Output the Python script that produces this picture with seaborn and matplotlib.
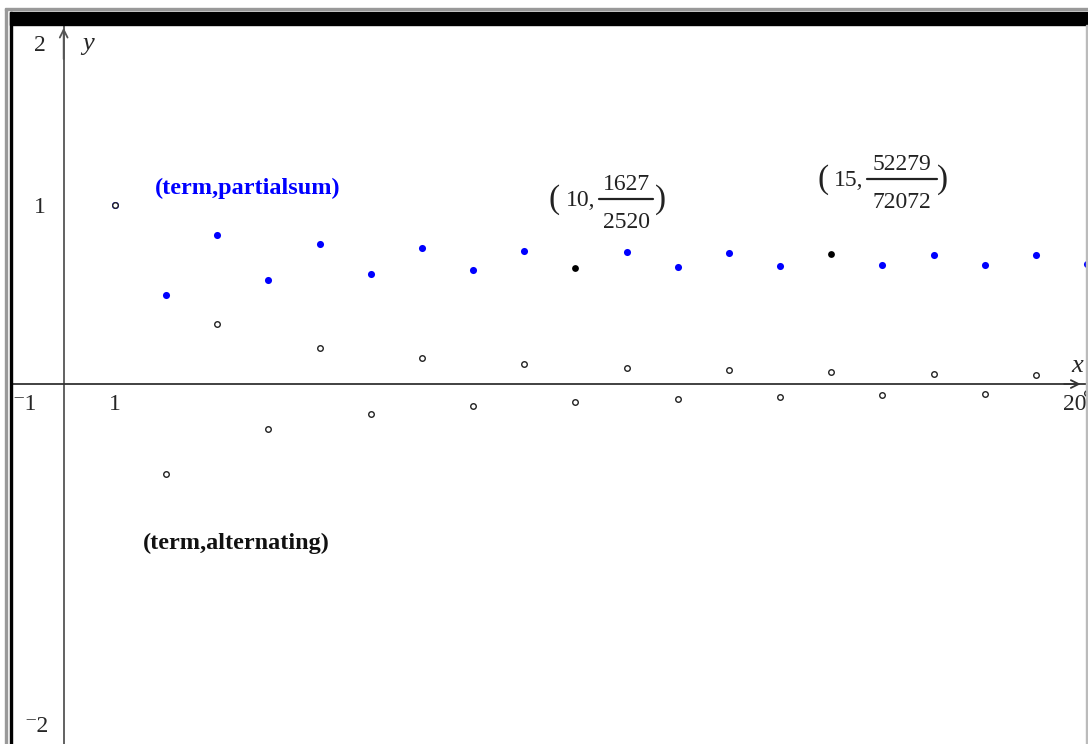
import numpy as np
import pandas as pd
import matplotlib
matplotlib.use("Agg")
import matplotlib.pyplot as plt
from matplotlib.patches import Rectangle
from matplotlib.lines import Line2D
import seaborn as sns

# ------------------------------------------------------------
# datos: serie armonica alternante y sus sumas parciales
# ------------------------------------------------------------
term = list(range(1, 21))
alternating = [1, -1/2, 1/3, -1/4, 1/5, -1/6, 1/7, -1/8, 1/9, -1/10,
               1/11, -1/12, 1/13, -1/14, 1/15, -1/16, 1/17, -1/18, 1/19, -1/20]
partialsum = [1.0, 0.5, 0.8333, 0.5833, 0.7833, 0.6167, 0.7595, 0.6345,
              0.7456, 0.6456, 0.7365, 0.6532, 0.7301, 0.6587, 0.7254,
              0.6629, 0.7218, 0.6663, 0.7189, 0.6688]
selected_terms = [10, 15]
selected_num = ["1627", "52279"]
selected_den = ["2520", "72072"]
x_ticklabels = {-1: "\u207b1", 1: "1", 20: "20"}

sns.set_theme(style="white")
plt.rcParams["font.family"] = ["Liberation Serif", "DejaVu Serif"]

W, H = 1088, 744
fig = plt.figure(figsize=(W / 100, H / 100), dpi=100)
ax = fig.add_axes([12 / W, 0, (1087 - 12) / W, (744 - 25) / H])


def px(x, y):
    """pixel (desde arriba a la izquierda) -> fraccion de figura"""
    return x / W, 1 - y / H


df = pd.DataFrame({"term": term, "alternating": alternating, "partialsum": partialsum})
df["sel"] = df["term"].isin(selected_terms)

# sumas parciales (azul), las seleccionadas en negro
sns.scatterplot(data=df[~df["sel"]], x="term", y="partialsum", ax=ax,
                color="#0000ff", s=26, linewidth=0, zorder=3)
sns.scatterplot(data=df[df["sel"]], x="term", y="partialsum", ax=ax,
                color="black", s=24, linewidth=0, zorder=3)
# terminos alternantes: circulos huecos
sns.scatterplot(data=df, x="term", y="alternating", ax=ax,
                facecolor="white", edgecolor="#222222", s=16, linewidth=1.0,
                zorder=4, clip_on=False)

ax.set_xlim(-1.01, 19.97)
ax.set_ylim(-2.011, 2.006)

# ejes cartesianos en el origen
for side in ["top", "right"]:
    ax.spines[side].set_visible(False)
ax.spines["left"].set_position("zero")
ax.spines["bottom"].set_position("zero")
ax.spines["left"].set_color("#555555")
ax.spines["bottom"].set_color("#333333")
ax.spines["left"].set_linewidth(1.3)
ax.spines["bottom"].set_linewidth(1.3)

ax.set_xticks(range(-1, 21))
ax.set_xticklabels([x_ticklabels.get(v, "") for v in range(-1, 21)], fontsize=17)
ax.set_yticks(range(-2, 3))
ax.set_yticklabels([])
ax.tick_params(axis="both", direction="inout", length=6, width=1, color="#333333",
               pad=4)
ax.set_xlabel("")
ax.set_ylabel("")
xl = ax.get_xticklabels()
xl[0].set_ha("left")
xl[-1].set_ha("right")

# etiquetas del eje y (como en la calculadora: 2 debajo de su marca, -2 arriba)
ax.text(-0.46, 1.894, "2", fontsize=17, ha="center", va="center")
ax.text(-0.46, 0.989, "1", fontsize=17, ha="center", va="center")
ax.text(-0.54, -1.916, "\u207b2", fontsize=17, ha="center", va="center")

# flechas de los ejes
ax.annotate("", xy=(0, 2.006), xytext=(0, 1.8),
            arrowprops=dict(arrowstyle="->", color="#555555", lw=1.3,
                            mutation_scale=14), annotation_clip=False)
ax.annotate("", xy=(19.93, 0), xytext=(19.5, 0),
            arrowprops=dict(arrowstyle="->", color="#333333", lw=1.3,
                            mutation_scale=14), annotation_clip=False)
ax.text(19.8, 0.1, "x", fontsize=19, style="italic", ha="center", va="center")
ax.text(0.48, 1.9, "y", fontsize=19, style="italic", ha="center", va="center")

# etiquetas de las graficas
ax.text(3.6, 1.095, "(term,partialsum)", color="#0000ff", fontsize=17.5,
        fontweight="bold", ha="center", va="center")
ax.text(3.38, -0.888, "(term,alternating)", color="#111111", fontsize=17.5,
        fontweight="bold", ha="center", va="center")


def draw_point_label(cx, cy, whole, num, den, half, lpar, rpar):
    """Etiqueta estilo TI: ( n, num/den ) con la fraccion apilada.
    (cx, cy) es el centro de la raya de la fraccion, en pixeles."""
    c = "#222222"
    kw = dict(transform=fig.transFigure, color=c, va="center")
    fig.text(*px(cx + lpar, cy + 1), "(", fontsize=24, ha="center", **kw)
    fig.text(*px(cx - half - 4, cy + 1), whole + ",", fontsize=17, ha="right", **kw)
    fig.text(*px(cx, cy - 14), num, fontsize=17, ha="center", **kw)
    fig.text(*px(cx, cy + 24), den, fontsize=17, ha="center", **kw)
    fig.text(*px(cx + rpar, cy + 1), ")", fontsize=24, ha="center", **kw)
    x0, y0 = px(cx - half, cy)
    x1, _ = px(cx + half, cy)
    fig.add_artist(Line2D([x0, x1], [y0, y0], transform=fig.transFigure,
                          color=c, lw=1.6))


# puntos seleccionados: raya de la fraccion en (626, 199) y (902, 179)
draw_point_label(626, 199, str(selected_terms[0]), selected_num[0],
                 selected_den[0], 27, -72, 35)
draw_point_label(902, 179, str(selected_terms[1]), selected_num[1],
                 selected_den[1], 35, -79, 41)

# marco de la ventana
fig.patches.append(Rectangle((10 / W, 0), 2 / W, (744 - 12) / H,
                             transform=fig.transFigure, color="black", zorder=10))
fig.patches.append(Rectangle((10 / W, (744 - 25) / H), (W - 10) / W, 13 / H,
                             transform=fig.transFigure, color="black", zorder=10))
fig.patches.append(Rectangle((5 / W, 0), 1.5 / W, (744 - 9) / H,
                             transform=fig.transFigure, color="#999999", zorder=10))
fig.patches.append(Rectangle((5 / W, (744 - 10) / H), (W - 5) / W, 1.5 / H,
                             transform=fig.transFigure, color="#999999", zorder=10))
fig.patches.append(Rectangle((1086 / W, 0), 1.5 / W, (744 - 25) / H,
                             transform=fig.transFigure, color="#bbbbbb", zorder=10))

fig.savefig("out.png", dpi=100)
plt.close(fig)
